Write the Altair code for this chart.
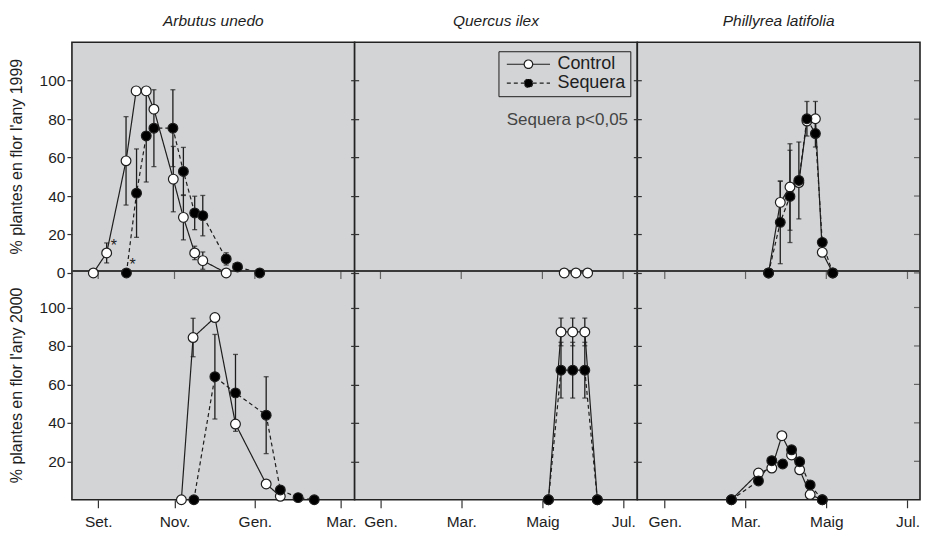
import altair as alt
import numpy as np
import pandas as pd

# ---------------- data ----------------
# x: months counted from the left edge of each panel; y: % plants in flower
species = ["Arbutus unedo", "Quercus ilex", "Phillyrea latifolia"]
series_names = ["Control", "Sequera"]

arb99_c_x = [0.53, 0.86, 1.34, 1.59, 1.84, 2.03, 2.51, 2.76, 3.04, 3.24, 3.82]
arb99_c_y = [0, 10.4, 58.3, 94.7, 94.7, 85.2, 48.8, 28.9, 10.4, 6.4, 0]
arb99_c_e = [0, 5.2, 23, 0, 0, 0, 17, 11.7, 3.5, 4.5, 0]
arb99_s_x = [1.35, 1.60, 1.84, 2.03, 2.50, 2.76, 3.04, 3.24, 3.82, 4.10, 4.65]
arb99_s_y = [0, 41.5, 71.3, 75.3, 75.3, 52.8, 31.2, 29.8, 7.3, 3.1, 0]
arb99_s_e = [0, 23, 24, 20, 20, 12.5, 8.7, 10.5, 3.2, 0, 0]

arb00_c_x = [2.71, 3.00, 3.54, 4.05, 4.81, 5.16]
arb00_c_y = [0, 84.4, 94.8, 39.4, 8.2, 1.8]
arb00_c_e = [0, 10, 0, 2, 2, 0]
arb00_s_x = [3.02, 3.54, 4.05, 4.81, 5.16, 5.60, 6.00]
arb00_s_y = [0, 64, 55.6, 44, 5.1, 1.1, 0]
arb00_s_e = [0, 22, 20, 20, 0, 0, 0]

que99_c_x = [5.19, 5.48, 5.77]
que99_c_y = [0, 0, 0]
que99_c_e = [0, 0, 0]

que00_c_x = [4.80, 5.11, 5.40, 5.70, 6.01]
que00_c_y = [0, 87.3, 87.3, 87.3, 0]
que00_c_e = [0, 7.2, 7.2, 7.2, 0]
que00_s_x = [4.80, 5.11, 5.40, 5.70, 6.01]
que00_s_y = [0, 67.4, 67.4, 67.4, 0]
que00_s_e = [0, 14.5, 14.5, 14.5, 0]

phi99_c_x = [3.25, 3.54, 3.78, 4.00, 4.20, 4.41, 4.58, 4.84]
phi99_c_y = [0, 36.7, 44.7, 47.0, 79.0, 80.2, 10.7, 0]
phi99_c_e = [0, 11, 22.5, 0, 0, 9, 2, 0]
phi99_s_x = [3.25, 3.54, 3.78, 4.00, 4.20, 4.41, 4.58, 4.84]
phi99_s_y = [0, 26.3, 39.8, 48.1, 80.2, 72.5, 15.9, 0]
phi99_s_e = [0, 21.5, 24, 20, 9, 7, 0, 0]

phi00_c_x = [2.33, 3.00, 3.33, 3.58, 3.82, 4.02, 4.28, 4.58]
phi00_c_y = [0, 13.9, 16.5, 33.3, 23.3, 15.6, 2.7, 0]
phi00_c_e = [0, 0, 0, 0, 0, 0, 0, 0]
phi00_s_x = [2.33, 3.00, 3.33, 3.60, 3.82, 4.02, 4.28, 4.58]
phi00_s_y = [0, 9.8, 20.3, 18.6, 26.0, 19.8, 7.7, 0]
phi00_s_e = [0, 0, 0, 0, 0, 0, 0, 0]

tick_vals = [[0.65, 2.54, 4.53, 6.66], [0.64, 2.64, 4.65, 6.65], [0.68, 2.68, 4.68, 6.69]]
tick_labels = [["Set.", "Nov.", "Gen.", "Mar."],
               ["Gen.", "Mar.", "Maig", "Jul."],
               ["Gen.", "Mar.", "Maig", "Jul."]]
y_ticks_1999 = [0, 20, 40, 60, 80, 100]
y_ticks_2000 = [20, 40, 60, 80, 100]
y_titles = ["% plantes en flor l'any 1999", "% plantes en flor l'any 2000"]
star_x = [1.04, 1.50]
star_y = [15.9, 6.0]
note_text = "Sequera p<0,05"
note_x = 6.77
note_y = 79.3

# ---------------- layout constants ----------------
W, H = 283, 458
XMAX, YMAX = 7.0, 238
OFF99 = 118   # 1999 panel sits above the 2000 panel in each column
BOUND = 119   # line separating the two years
INK = "#1e1e1e"
FONT = "Liberation Sans"

panels = [
    ("Arbutus unedo", 1999, "Control", arb99_c_x, arb99_c_y, arb99_c_e),
    ("Arbutus unedo", 1999, "Sequera", arb99_s_x, arb99_s_y, arb99_s_e),
    ("Arbutus unedo", 2000, "Control", arb00_c_x, arb00_c_y, arb00_c_e),
    ("Arbutus unedo", 2000, "Sequera", arb00_s_x, arb00_s_y, arb00_s_e),
    ("Quercus ilex", 1999, "Control", que99_c_x, que99_c_y, que99_c_e),
    ("Quercus ilex", 2000, "Control", que00_c_x, que00_c_y, que00_c_e),
    ("Quercus ilex", 2000, "Sequera", que00_s_x, que00_s_y, que00_s_e),
    ("Phillyrea latifolia", 1999, "Control", phi99_c_x, phi99_c_y, phi99_c_e),
    ("Phillyrea latifolia", 1999, "Sequera", phi99_s_x, phi99_s_y, phi99_s_e),
    ("Phillyrea latifolia", 2000, "Control", phi00_c_x, phi00_c_y, phi00_c_e),
    ("Phillyrea latifolia", 2000, "Sequera", phi00_s_x, phi00_s_y, phi00_s_e),
]
rows = []
for sp, yr, se, xs_, ys_, es_ in panels:
    for x, y, e in zip(xs_, ys_, es_):
        rows.append(dict(species=sp, year=yr, series=se, month=x, value=y, err=e))
df = pd.DataFrame(rows)
df["yv"] = df["value"] + np.where(df["year"] == 1999, OFF99, 0)
df["lo"] = df["yv"] - df["err"]
df["hi"] = df["yv"] + df["err"]

ytick_vals = y_ticks_2000 + [v + OFF99 for v in y_ticks_1999]

fill_scale = alt.Scale(domain=series_names, range=["white", "black"])
dash_scale = alt.Scale(domain=series_names, range=[[1, 0], [4, 3]])

LEG_PATH = "M-5.1,0H-1M1,0H5.1M1,0A1,1,0,1,1,-1,0A1,1,0,1,1,1,0Z"
legend = alt.Legend(
    title=None, orient="none", legendX=144, legendY=9, direction="vertical",
    strokeColor=INK, padding=4, symbolType=LEG_PATH, symbolSize=72,
    symbolStrokeColor=INK, symbolStrokeWidth=1.2, symbolOffset=17,
    labelOffset=20, labelFontSize=18, labelFont=FONT, labelColor=INK,
    rowPadding=1, labelLimit=200,
)


def column(i):
    sp = species[i]
    d = df[df["species"] == sp]
    e = d[d["err"] > 0]
    caps = pd.concat([e.assign(cap=e["lo"]), e.assign(cap=e["hi"])])

    xs = alt.Scale(domain=[0, XMAX], nice=False, zero=False)
    ys = alt.Scale(domain=[0, YMAX], nice=False, zero=False)
    tv, tl = tick_vals[i], tick_labels[i]
    mids = [(a + b) / 2 for a, b in zip(tv[:-1], tv[1:])]
    expr = f"'{tl[-1]}'"
    for m, lab in reversed(list(zip(mids, tl[:-1]))):
        expr = f"datum.value < {m:.3f} ? '{lab}' : ({expr})"
    xaxis = alt.Axis(values=tv, labelExpr=expr, title=None, grid=False, domain=False,
                     tickSize=8, labelPadding=7, labelFontSize=15.5, labelFlush=False)
    if i == 0:
        yaxis = alt.Axis(values=ytick_vals,
                         labelExpr=f"datum.value >= {OFF99} ? datum.value - {OFF99} : datum.value",
                         title=None, grid=False, domain=False, tickSize=5, labelPadding=2,
                         labelFontSize=15.5)
    else:
        yaxis = alt.Axis(values=ytick_vals, labels=False, title=None, grid=False,
                         domain=False, tickSize=8, offset=-4)

    def X(f):
        return alt.X(f, type="quantitative", scale=xs, axis=xaxis)

    def Y(f):
        return alt.Y(f, type="quantitative", scale=ys, axis=yaxis)

    leg = legend if i == 1 else None

    lines = alt.Chart(d).mark_line(color=INK, strokeWidth=1.2).encode(
        x=X("month"), y=Y("yv"),
        strokeDash=alt.StrokeDash("series:N", scale=dash_scale, legend=leg),
        detail="year:N",
    )
    bars = alt.Chart(e).mark_rule(color=INK, strokeWidth=1.3).encode(
        x=X("month"), y=Y("lo"), y2="hi")
    capm = alt.Chart(caps).mark_tick(color=INK, orient="horizontal", size=5, thickness=1.3).encode(
        x=X("month"), y=Y("cap"))
    sep = alt.Chart(pd.DataFrame({"b": [BOUND]})).mark_rule(color="#3a3a3a", strokeWidth=1.8).encode(
        y=Y("b"))
    mid = alt.Chart(pd.DataFrame({"t": tv, "b": [BOUND] * len(tv)})).mark_tick(
        color="#333", orient="vertical", size=8, thickness=1.2, yOffset=4).encode(
        x=X("t"), y=Y("b"))
    pts = alt.Chart(d).mark_point(shape="circle", filled=True, size=95, stroke=INK,
                                  strokeWidth=1.2, opacity=1).encode(
        x=X("month"), y=Y("yv"),
        fill=alt.Fill("series:N", scale=fill_scale, legend=leg),
    )
    layers = [lines, bars, capm, sep, mid, pts]

    if i == 0:
        stars = alt.Chart(pd.DataFrame({"sx": star_x, "sy": [v + OFF99 for v in star_y], "s": ["*", "*"]})).mark_text(
            fontSize=16, color=INK, baseline="middle", dy=4).encode(x=X("sx"), y=Y("sy"), text="s")
        yt = alt.Chart(pd.DataFrame({"yc": [(BOUND + YMAX) / 2, BOUND / 2], "t": y_titles})).mark_text(
            angle=270, fontSize=16, color=INK, align="center", baseline="middle").encode(
            x=alt.value(-55), y=Y("yc"), text="t")
        layers += [stars, yt]
    if i == 1:
        note = alt.Chart(pd.DataFrame({"nx": [note_x], "ny": [note_y + OFF99], "t": [note_text]})).mark_text(
            fontSize=17, color="#444", align="right", baseline="middle").encode(
            x=X("nx"), y=Y("ny"), text="t")
        layers += [note]
    if i == 2:
        rt = alt.Chart(pd.DataFrame({"r": [XMAX] * len(ytick_vals), "yt": ytick_vals})).mark_tick(
            color="#333", orient="horizontal", size=6, thickness=1.2, xOffset=-3).encode(
            x=X("r"), y=Y("yt"))
        layers += [rt]

    return alt.layer(*layers).properties(
        width=W, height=H,
        title=alt.TitleParams(sp, fontStyle="italic", fontSize=15.5, fontWeight="normal",
                              font=FONT, color=INK, offset=13, anchor="middle"),
    )


chart = alt.hconcat(column(0), column(1), column(2), spacing=0, bounds="flush").resolve_scale(
    fill="independent", strokeDash="independent"
).resolve_legend(
    fill="independent", strokeDash="independent"
).properties(
    padding={"left": 0, "right": 0, "top": 4, "bottom": 0}
).configure(
    font=FONT
).configure_view(
    fill="#d3d4d6", stroke="#222", strokeWidth=1.6
).configure_axis(
    tickColor="#333", tickWidth=1.2, labelColor=INK, labelFont=FONT
)

chart.save("out.html", embed_options={"renderer": "svg", "actions": False})
